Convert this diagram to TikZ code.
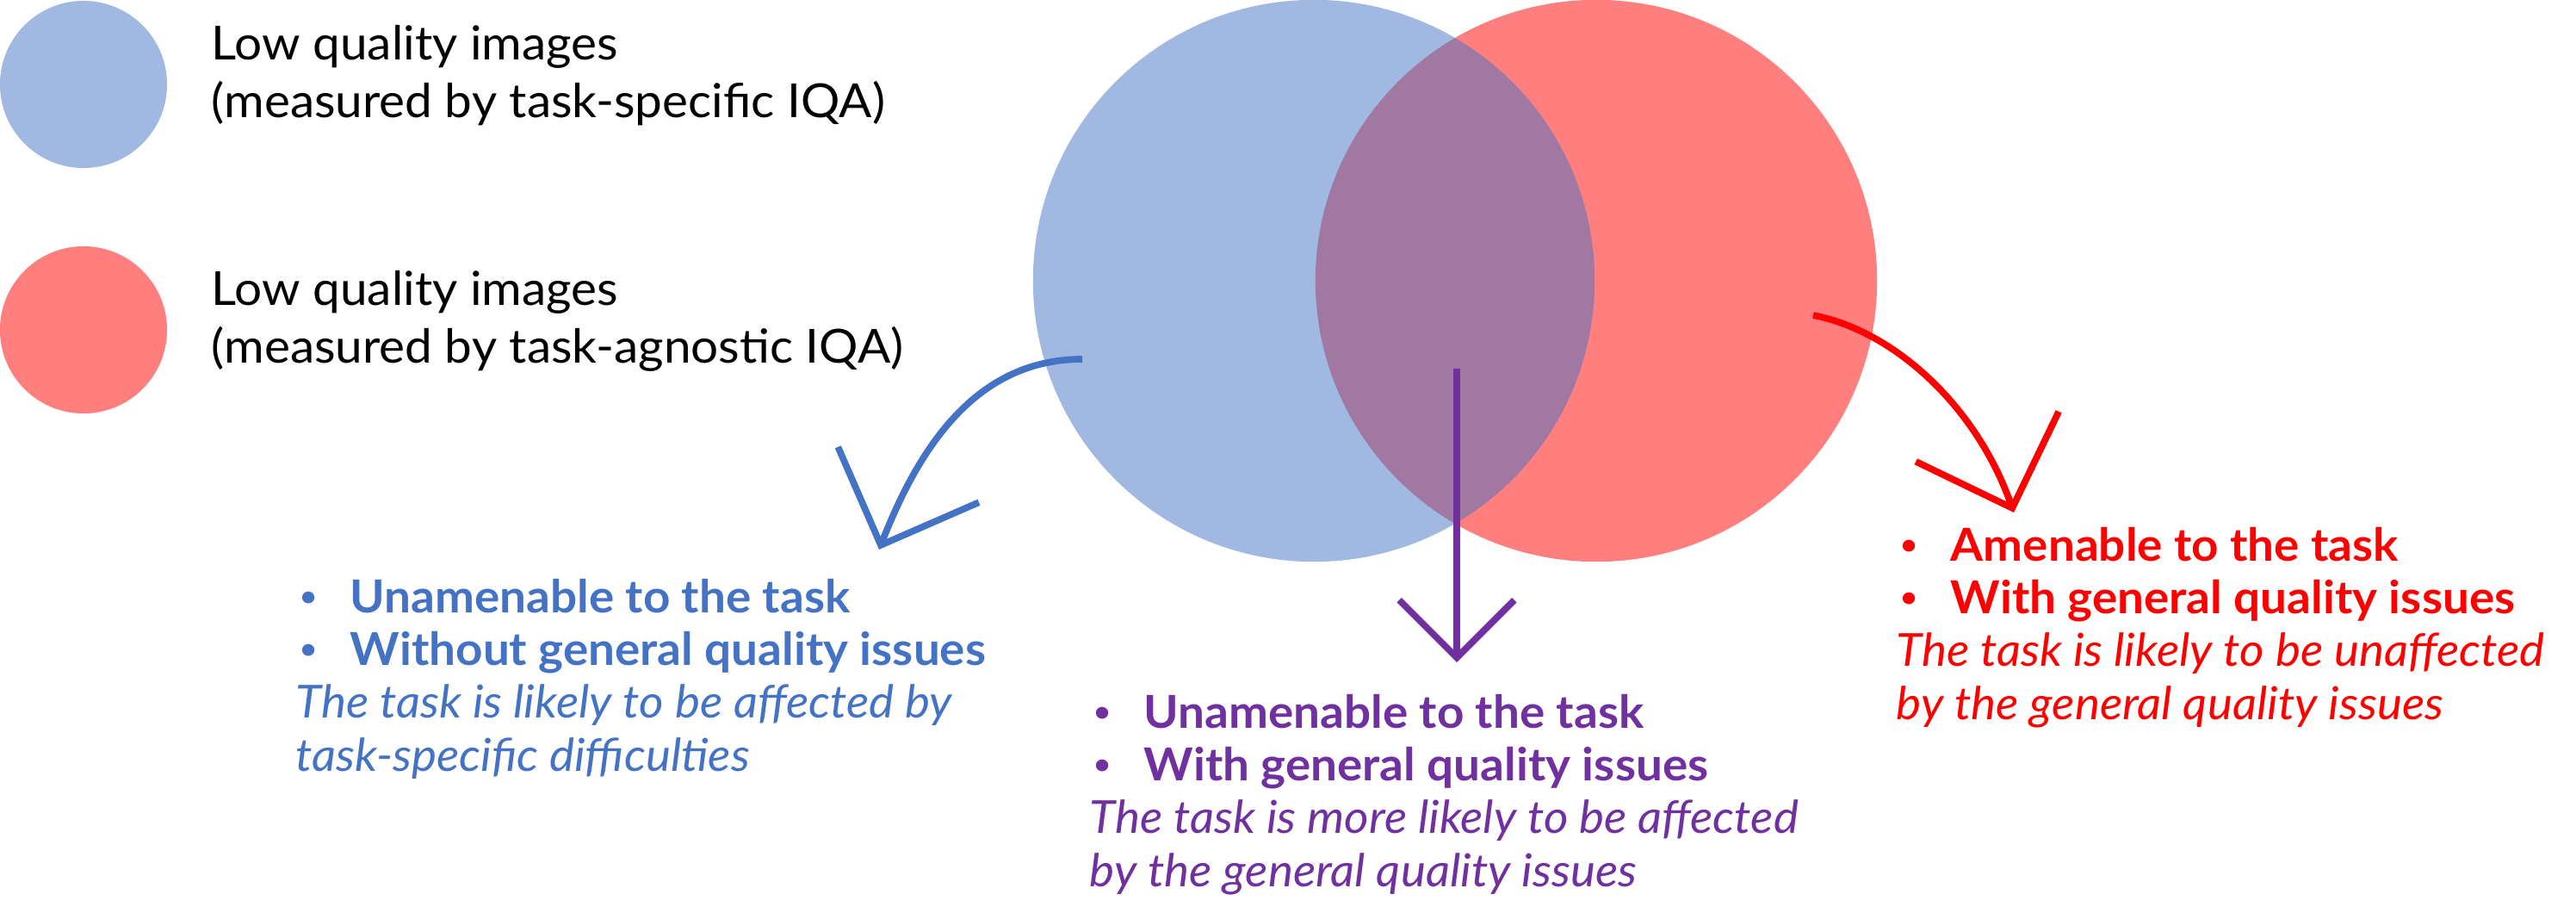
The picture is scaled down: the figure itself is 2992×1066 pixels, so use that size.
\documentclass[tikz,border=0pt]{standalone}
\usepackage{fontspec}
\setmainfont{Lato}[FakeStretch=1.04]
\usetikzlibrary{arrows.meta}
\definecolor{taskblue}{HTML}{4472C4}
\definecolor{taskred}{HTML}{FF0000}
\definecolor{taskpurple}{HTML}{7030A0}
\newcommand\bpt{\makebox[0.63cm][l]{\hspace{0.05cm}\raisebox{0.3ex}{\scalebox{0.6}{\textbullet}}}}
\begin{document}
\begin{tikzpicture}
	[x=0.01cm,y=-0.01cm,
	 set/.style={circle,minimum size=6.52cm,inner sep=0pt,fill opacity=0.5},
	 key/.style={circle,minimum size=1.94cm,inner sep=0pt,fill opacity=0.5},
	 keytext/.style={anchor=base west,inner sep=0pt,align=left,font=\fontsize{15.5}{18.8}\selectfont},
	 block/.style={anchor=base west,inner sep=0pt,align=left,font=\fontsize{15}{17.4}\selectfont},
	 link/.style={line width=2.2pt},
	 barb/.style={-{Straight Barb[length=#1,width'=0pt 2]}}]
	\useasboundingbox (0,0) rectangle (2992,1066);
	\node[key,fill=taskblue,name=bluekey] at (97,98) {};
	\node[key,fill=taskred,name=redkey] at (97,383) {};
	\node[keytext,name=bluekeytext] at (245,136) {Low quality images\\(measured by task-specific IQA)};
	\node[keytext,name=redkeytext] at (245,421) {Low quality images\\(measured by task-agnostic IQA)};
	\node[set,fill=taskred,name=redset] at (1854,326) {};
	\node[set,fill=taskblue,name=blueset] at (1526,326) {};
	\coordinate (bluefrom) at (1257,417);
	\coordinate (blueto) at (1021,638);
	\coordinate (purplefrom) at (1692,428);
	\coordinate (purpleto) at (1692,769);
	\coordinate (redfrom) at (2106,366);
	\coordinate (redto) at (2339,595);
	\draw[link,barb=25pt,taskblue](bluefrom) .. controls (1130,417) and (1065,526) .. (blueto);
	\draw[link,barb=19pt,taskpurple](purplefrom)--(purpleto);
	\draw[link,barb=25pt,taskred](redfrom) .. controls (2200,384) and (2296,472) .. (redto);
	\node[block,text=taskblue,name=bluetext] at (343,895)
		{\textbf{\bpt Unamenable to the task}\\\textbf{\bpt Without general quality issues}\\
		 \textit{The task is likely to be affected by}\\\textit{task-specific difficulties}};
	\node[block,text=taskpurple,name=purpletext] at (1265,1029)
		{\textbf{\bpt Unamenable to the task}\\\textbf{\bpt With general quality issues}\\
		 \textit{The task is more likely to be affected}\\\textit{by the general quality issues}};
	\node[block,text=taskred,name=redtext] at (2202,835)
		{\textbf{\bpt Amenable to the task}\\\textbf{\bpt With general quality issues}\\
		 \textit{The task is likely to be unaffected}\\\textit{by the general quality issues}};
\end{tikzpicture}
\end{document}
